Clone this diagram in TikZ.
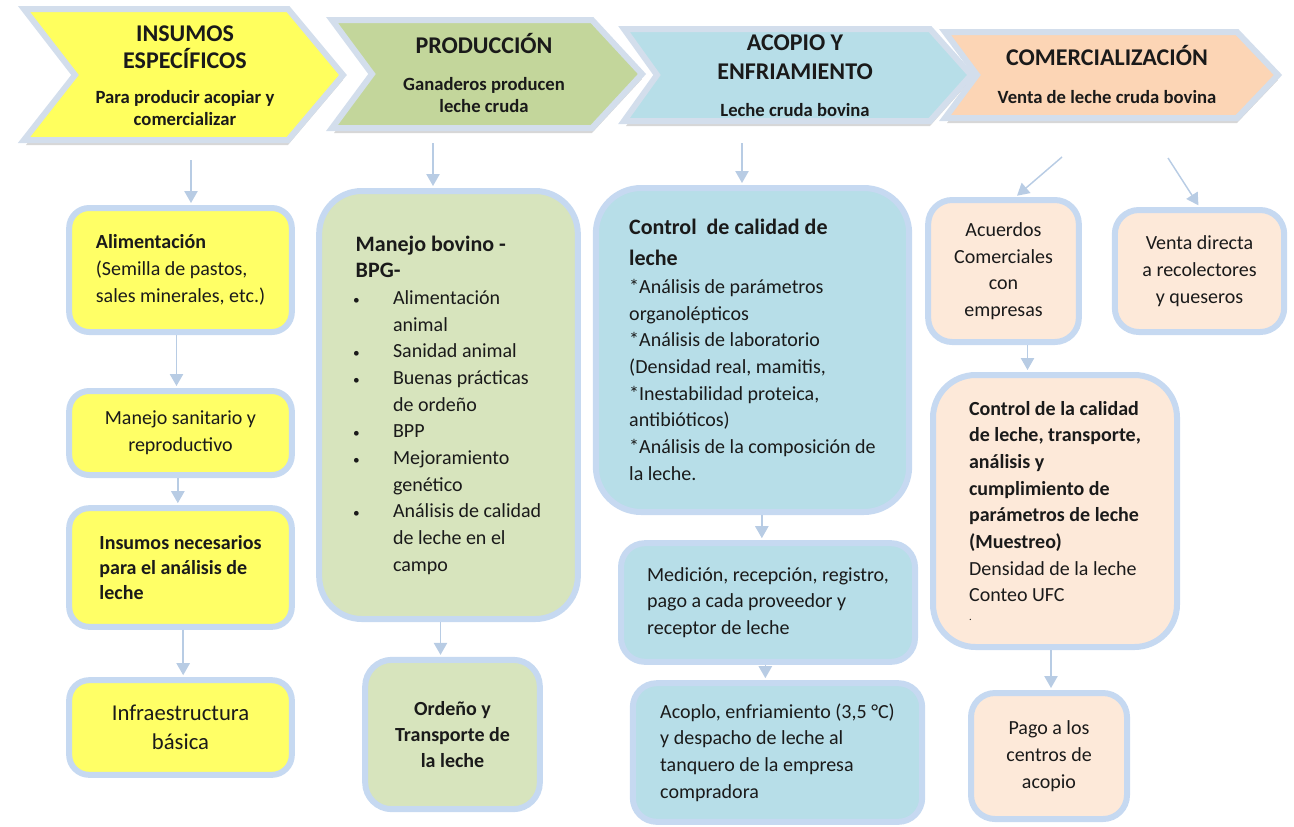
\documentclass[tikz,border=0pt]{standalone}
\usepackage{fontspec}
\setmainfont{Carlito}
\usepackage{xcolor}
\usepackage{tikz}
\usetikzlibrary{arrows.meta}

\definecolor{amarilloflecha}{HTML}{FFFF5E}
\definecolor{amarillocaja}{HTML}{FFFF66}
\definecolor{verdeflecha}{HTML}{C3D69B}
\definecolor{verdecaja}{HTML}{D7E4BD}
\definecolor{azulcaja}{HTML}{B7DEE8}
\definecolor{naranjaflecha}{HTML}{FCD5B5}
\definecolor{naranjacaja}{HTML}{FDE9D9}
\definecolor{borde}{HTML}{C6D9F1}
\definecolor{bordeflecha}{HTML}{D3DEEC}
\definecolor{flechacol}{HTML}{B8CCE4}
\definecolor{texto}{HTML}{1A1A1A}

\newcommand{\vineta}{\makebox[28pt][l]{\hspace{-2pt}{\fontsize{10}{10}\selectfont\textbullet}}}

\tikzset{
  flecha/.style={draw=flechacol, line width=1.1pt, -{Triangle[length=9pt,width=10pt]}, shorten >=1.5pt},
  caja/.style={draw=borde, line width=4.5pt, inner sep=0pt, text=texto, font=\fontsize{15}{20}\selectfont},
  encab/.style={draw=bordeflecha, line width=4.5pt, line join=miter},
  sombra/.style={fill=black!45, opacity=0.35},
  titulo/.style={font=\fontsize{18}{20}\selectfont\bfseries, align=center, text=texto},
  subtitulo/.style={font=\fontsize{14}{17}\selectfont\bfseries, align=center, text=texto}
}

\begin{document}
\begin{tikzpicture}[x=0.75pt,y=0.75pt,yscale=-1,xscale=1]

	\useasboundingbox (0,0) rectangle (1294,826);

	%Shape: Chevron insumos
	\fill[sombra] (26,14) -- (288,14) -- (343,80) -- (288,145) -- (26,145) -- (77,80) -- cycle;
	\draw[encab, fill=amarilloflecha] (24,9) -- (288,9) -- (343,75) -- (288,140) -- (24,140) -- (75,75) -- cycle;
	%Shape: Chevron produccion
	\fill[sombra] (334,25) -- (592,25) -- (642,79) -- (592,133) -- (334,133) -- (374,79) -- cycle;
	\draw[encab, fill=verdeflecha] (332,20) -- (592,20) -- (642,74) -- (592,128) -- (332,128) -- (372,74) -- cycle;
	%Shape: Chevron acopio
	\fill[sombra] (626,34) -- (930,34) -- (971,80) -- (930,126) -- (626,126) -- (659,80) -- cycle;
	\draw[encab, fill=azulcaja] (624,29) -- (930,29) -- (971,75) -- (930,121) -- (624,121) -- (657,75) -- cycle;
	%Shape: Chevron comercializacion
	\fill[sombra] (947,37) -- (1237,37) -- (1278,80) -- (1237,123) -- (947,123) -- (979,80) -- cycle;
	\draw[encab, fill=naranjaflecha] (945,32) -- (1237,32) -- (1278,75) -- (1237,118) -- (945,118) -- (977,75) -- cycle;

	% Text Node
	\node[titulo] (insumos) at (185,47) {INSUMOS\\ESPECÍFICOS};
	\node[subtitulo] (insumos-sub) at (185,108) {Para producir acopiar y\\comercializar};
	\node[titulo] (produccion) at (484,44) {PRODUCCIÓN};
	\node[subtitulo] (produccion-sub) at (484,95) {Ganaderos producen\\leche cruda};
	\node[titulo] (acopio) at (795,57) {ACOPIO Y\\[2pt]ENFRIAMIENTO};
	\node[subtitulo] (acopio-sub) at (795,110) {Leche cruda bovina};
	\node[titulo] (comercial) at (1107,55) {COMERCIALIZACIÓN};
	\node[subtitulo] (comercial-sub) at (1107,97) {Venta de leche cruda bovina};

	%Shape: Rounded Rect -- insumos
	\node[caja, fill=amarillocaja, rounded corners=15pt, minimum width=167pt, minimum height=93pt, align=left] (alim) at (180.5,270)
	  {\textbf{Alimentación}\\(Semilla de pastos,\\sales minerales, etc.)};
	\node[caja, fill=amarillocaja, rounded corners=15pt, minimum width=167pt, minimum height=63pt, align=center] (sanit) at (180.5,433)
	  {Manejo sanitario y\\reproductivo};
	\node[caja, fill=amarillocaja, rounded corners=15pt, minimum width=167pt, minimum height=89pt, align=left, font=\fontsize{15}{19}\selectfont\bfseries] (insum) at (180.5,567.5)
	  {Insumos necesarios\\para el análisis de\\leche};
	\node[caja, fill=amarillocaja, rounded corners=15pt, minimum width=167pt, minimum height=71pt, align=center, font=\fontsize{17}{22}\selectfont] (infra) at (180.5,727.5)
	  {Infraestructura\\básica};

	%Shape: Rounded Rect -- produccion
	\node[caja, fill=verdecaja, rounded corners=32pt, minimum width=194pt, minimum height=321pt, align=left] (bov) at (448.5,405)
	  {{\fontsize{16.5}{20}\selectfont\bfseries Manejo bovino -}\\
	   {\fontsize{16.5}{20}\selectfont\bfseries BPG-}\\
	   \vineta Alimentación\\
	   \hspace*{28pt}animal\\
	   \vineta Sanidad animal\\
	   \vineta Buenas prácticas\\
	   \hspace*{28pt}de ordeño\\
	   \vineta BPP\\
	   \vineta Mejoramiento\\
	   \hspace*{28pt}genético\\
	   \vineta Análisis de calidad\\
	   \hspace*{28pt}de leche en el\\
	   \hspace*{28pt}campo};
	\node[caja, fill=verdecaja, rounded corners=20pt, minimum width=131pt, minimum height=112pt, align=center, font=\fontsize{15}{19.5}\selectfont\bfseries] (ord) at (452.5,734.5)
	  {Ordeño y\\Transporte de\\la leche};

	%Shape: Rounded Rect -- acopio
	\node[caja, fill=azulcaja, rounded corners=34pt, minimum width=235pt, minimum height=243pt, align=left] (ctrl) at (752.5,350)
	  {{\fontsize{16.5}{20}\selectfont\bfseries Control~ de calidad de}\\[3pt]
	   {\fontsize{16.5}{20}\selectfont\bfseries leche}\\[1pt]
	   *Análisis de parámetros\\
	   organolépticos\\
	   *Análisis de laboratorio\\
	   (Densidad real, mamitis,\\
	   *Inestabilidad proteica,\\
	   antibióticos)\\
	   *Análisis de la composición de\\
	   la leche.};
	\node[caja, fill=azulcaja, rounded corners=18pt, minimum width=220.5pt, minimum height=89pt, align=left] (med) at (768,602.5)
	  {Medición, recepción, registro,\\pago a cada proveedor y\\receptor de leche};
	\node[caja, fill=azulcaja, rounded corners=18pt, minimum width=217pt, minimum height=104pt, align=left] (acop) at (777.5,752.5)
	  {Acoplo, enfriamiento (3,5 °C)\\y despacho de leche al\\tanquero de la empresa\\compradora};

	%Shape: Rounded Rect -- comercializacion
	\node[caja, fill=naranjacaja, rounded corners=18pt, minimum width=113pt, minimum height=106.5pt, align=center] (acu) at (1003.5,271)
	  {Acuerdos\\Comerciales\\con\\empresas};
	\node[caja, fill=naranjacaja, rounded corners=18pt, minimum width=127pt, minimum height=91.5pt, align=center] (vta) at (1199.5,271)
	  {Venta directa\\a recolectores\\y queseros};
	\node[caja, fill=naranjacaja, rounded corners=32pt, minimum width=183pt, minimum height=204pt, align=left] (ccal) at (1055,511)
	  {\textbf{Control de la calidad}\\
	   \textbf{de leche, transporte,}\\
	   \textbf{análisis y}\\
	   \textbf{cumplimiento de}\\
	   \textbf{parámetros de leche}\\
	   \textbf{(Muestreo)}\\
	   Densidad de la leche\\
	   Conteo UFC\\[-6pt]
	   {\fontsize{8}{8}\selectfont .}};
	\node[caja, fill=naranjacaja, rounded corners=18pt, minimum width=117pt, minimum height=94.5pt, align=center] (pago) at (1049,756)
	  {Pago a los\\centros de\\acopio};

	% Arrow start points
	\coordinate (ins-sal) at (191,160);
	\coordinate (prod-sal) at (433,143);
	\coordinate (acop-sal) at (742,143);
	\coordinate (com-sal1) at (1062,157);
	\coordinate (com-sal2) at (1168,158);

	%Straight Lines
	\draw[flecha] (ins-sal) -- (ins-sal |- alim.north);
	\draw[flecha] ([xshift=-3pt]alim.south) -- ([xshift=-3pt]sanit.north);
	\draw[flecha] ([xshift=-2pt]sanit.south) -- ([xshift=-2pt]insum.north);
	\draw[flecha] ([xshift=2pt]insum.south) -- ([xshift=2pt]infra.north);
	\draw[flecha] (prod-sal) -- (prod-sal |- bov.north);
	\draw[flecha] ([xshift=-6pt]bov.south) -- ([xshift=-9pt]ord.north);
	\draw[flecha] (acop-sal) -- (acop-sal |- ctrl.north);
	\draw[flecha] ([xshift=7pt]ctrl.south) -- ([xshift=7pt]ctrl.south |- med.north);
	\draw[flecha] ([xshift=-2pt]med.south) -- ([xshift=-2pt]med.south |- acop.north);
	\draw[flecha] (com-sal1) -- ([xshift=9pt]acu.north);
	\draw[flecha] (com-sal2) -- (vta.north);
	\draw[flecha] ([xshift=18pt]acu.south) -- ([xshift=18pt]acu.south |- ccal.north);
	\draw[flecha] ([xshift=-3pt]ccal.south) -- ([xshift=-3pt]ccal.south |- pago.north);

\end{tikzpicture}
\end{document}
